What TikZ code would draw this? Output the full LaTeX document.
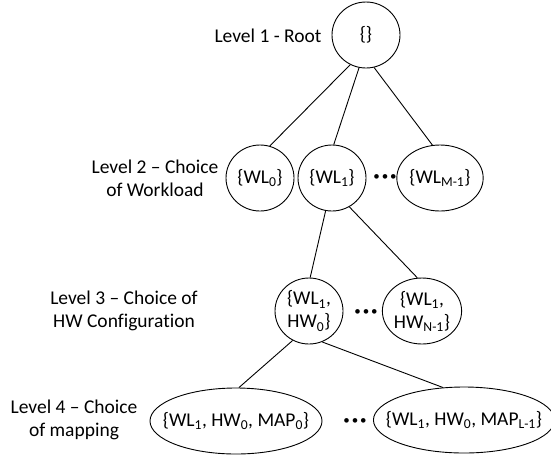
\documentclass[tikz,border=0pt]{standalone}
\usepackage{fontspec}
\setmainfont{Carlito}[Ligatures=NoCommon]
\usetikzlibrary{shapes.geometric}

\begin{document}
\begin{tikzpicture}[x=1pt, y=-1pt,
    every node/.style={font=\fontsize{19.5}{23}\selectfont},
    state/.style={ellipse, draw=black, line width=0.9pt, minimum width=68pt, minimum height=66pt, inner sep=0pt, align=center},
    mapping/.style={state, minimum width=172pt, inner xsep=-14pt},
    level/.style={align=center},
    dots/.style={font=\fontsize{13}{13}\selectfont, inner sep=0pt},
    edge/.style={line width=0.9pt}
]
\useasboundingbox (0,0) rectangle (551,459);

% Level labels
\node[level] (lvl1) at (268, 36) {Level 1 - Root};
\node[level] (lvl2) at (155, 178) {Level 2 -- Choice\\of Workload};
\node[level] (lvl3) at (124, 311) {Level 3 -- Choice of\\HW Configuration};
\node[level] (lvl4) at (74, 420) {Level 4 -- Choice\\of mapping};

% Level 1 - root
\node[state] (root) at (366, 35) {\{\}};

% Level 2 - workloads
\node[state] (wl0) at (260, 178) {\{WL\textsubscript{0}\}};
\node[state] (wl1) at (332, 178) {\{WL\textsubscript{1}\}};
\node[state, minimum width=79pt] (wlm) at (440, 178) {\{WL\textsubscript{M-1}\}};
\node[dots] (dots2) at (385, 178) {•\kern2pt•\kern2pt•};

% Level 3 - HW configurations
\node[state] (hw0) at (309, 311) {\{WL\textsubscript{1},\\HW\textsubscript{0}\}};
\node[state, minimum width=72pt] (hwn) at (422, 311) {\{WL\textsubscript{1},\\HW\textsubscript{N-1}\}};
\node[dots] (dots3) at (366, 313) {•\kern2pt•\kern2pt•};

% Level 4 - mappings
\node[mapping] (map0) at (236, 421) {\{WL\textsubscript{1}, HW\textsubscript{0}, MAP\textsubscript{0}\}};
\node[mapping] (mapl) at (464, 420) {\{WL\textsubscript{1}, HW\textsubscript{0}, MAP\textsubscript{L-1}\}};
\node[dots] (dots4) at (355, 422) {•\kern2pt•\kern2pt•};

% Tree edges
\draw[edge] (root.242) -- (wl0.73);
\draw[edge] (root.258) -- (wl1.87);
\draw[edge] (root.284) -- (wlm.103);
\draw[edge] (wl1.259) -- (hw0.88);
\draw[edge] (wl1.301) -- (hwn.98);
\draw[edge] (hw0.241) -- (map0.85);
\draw[edge] (hw0.293) -- (mapl.123);

\end{tikzpicture}
\end{document}
